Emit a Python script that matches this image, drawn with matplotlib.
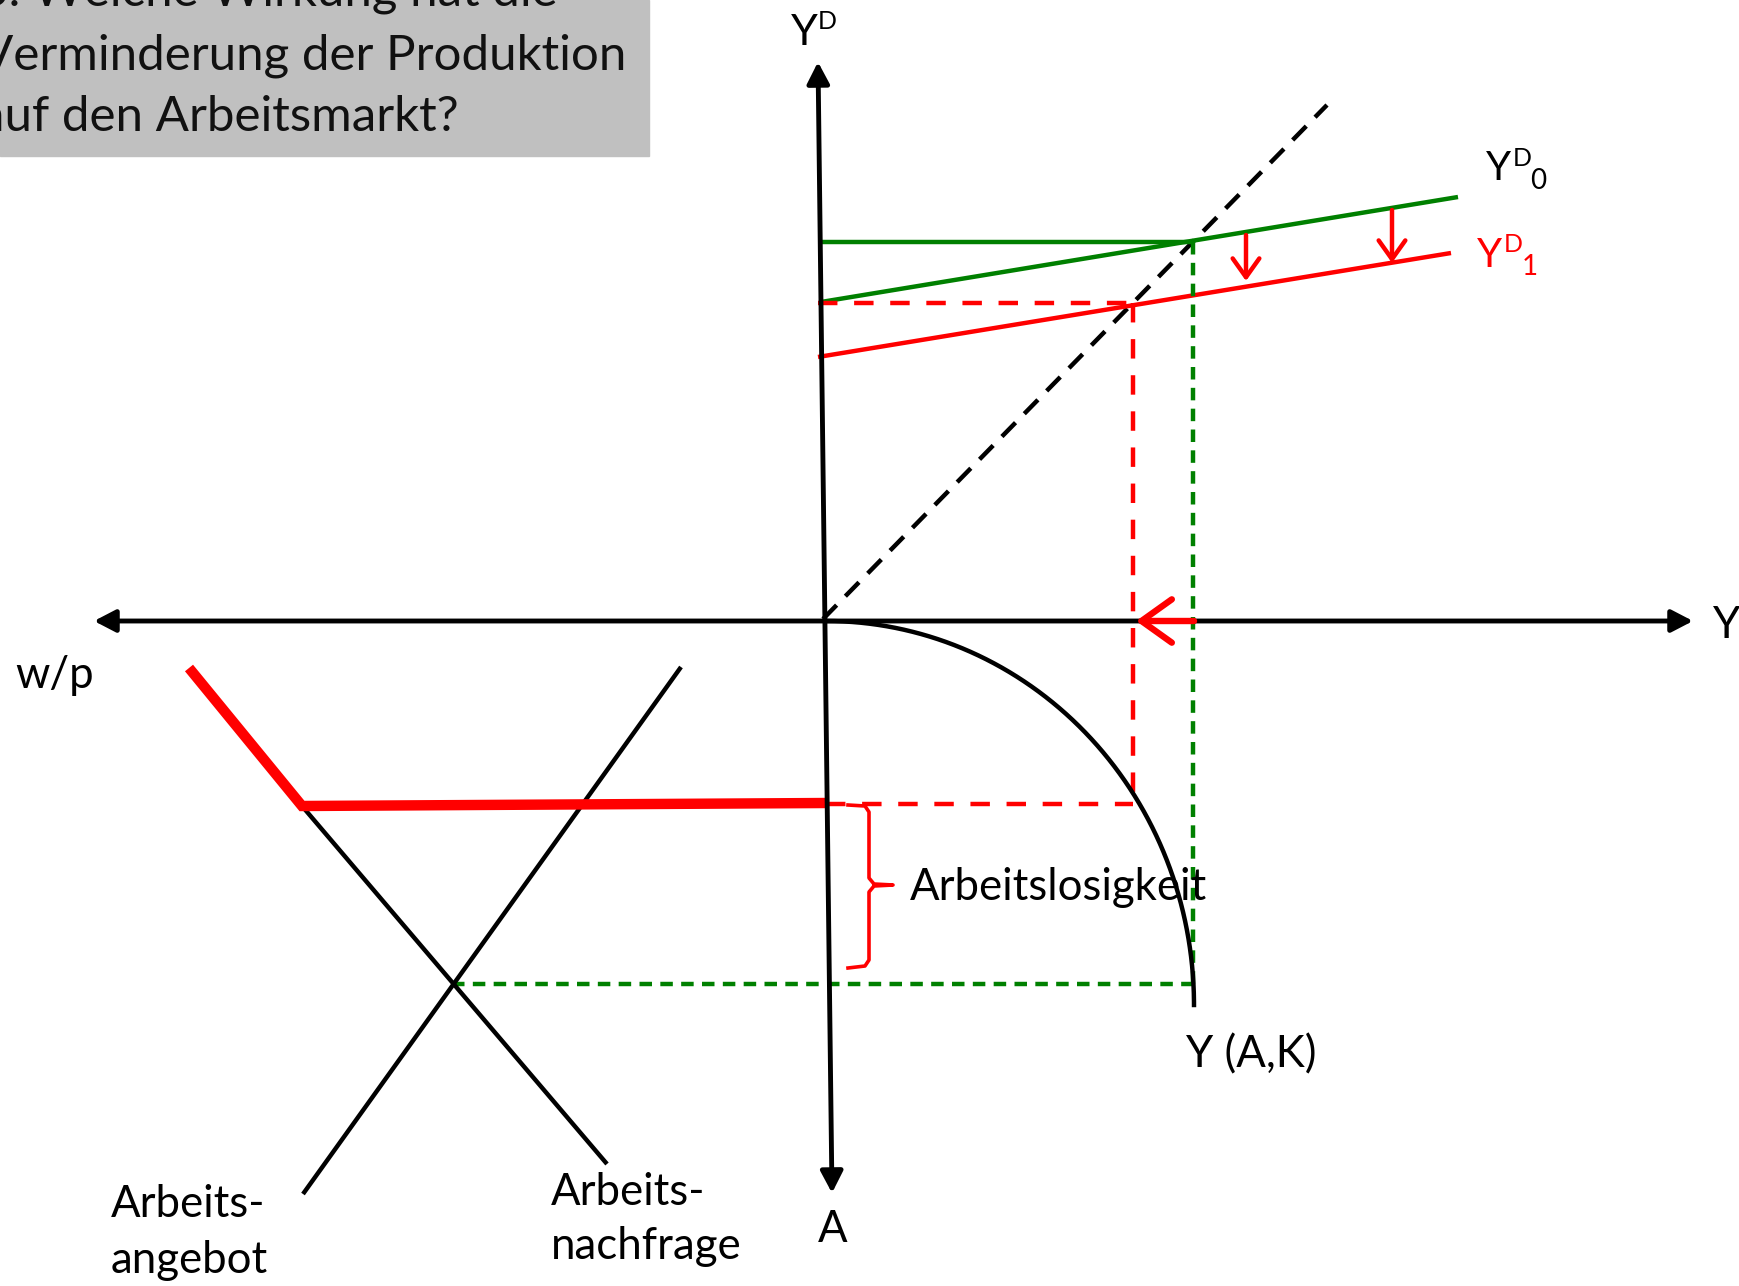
import numpy as np
import matplotlib
matplotlib.use('Agg')
import matplotlib.pyplot as plt
from matplotlib.patches import Rectangle

plt.rcParams['font.family'] = ['Lato', 'DejaVu Sans']
plt.rcParams['lines.scale_dashes'] = False

W, H = 1739, 1286
RED = '#ff0000'
GREEN = '#008000'

# diagram geometry in slide pixels (y grows downwards)
axis_h = [(94, 621), (1693, 621)]
axis_v = [(832, 1193), (818, 62)]
diag_45 = [(823, 619), (1327, 105)]
yd0 = [(821, 302), (1458, 197)]
yd1 = [(818, 357), (1451, 253)]
yd0_level = [(818, 242), (1193, 242)]
yd1_level = [(818, 303), (1133, 303)]
y1_drop = [(1133, 303), (1133, 804)]
a1_level = [(826, 804), (1133, 804)]
y0_drop = [(1193, 242), (1193, 984)]
a0_level = [(452, 984), (1193, 984)]
wage_floor = [(189, 668), (302, 806), (826, 803)]
labour_demand = [(302, 806), (607, 1164)]
labour_supply = [(303, 1194), (681, 667)]
prod_center = (826, 1005)
prod_radius = (368, 384)
shift_arrows = [((1246, 235), (1246, 281)), ((1392, 210), (1392, 263))]
output_arrow = ((1194, 621), (1136, 621))
brace = [(848, 805), (865, 806), (869, 812), (869, 878), (874, 884), (893, 885),
         (874, 886), (869, 892), (869, 960), (865, 966), (848, 968)]

title_lines = ['3. Welche Wirkung hat die', 'Verminderung der Produktion', 'auf den Arbeitsmarkt?']
title_baselines = [6, 69, 131]

labels = [('Arbeitslosigkeit', 910, 900), ('Y (A,K)', 1186, 1067), ('w/p', 15, 688),
          ('A', 818, 1242), ('Y', 1713, 638), ('Arbeits-', 111, 1217),
          ('angebot', 111, 1273), ('Arbeits-', 551, 1205), ('nachfrage', 551, 1259)]


def seg(ax, pts, color, lw, dashes=None):
    xs, ys = zip(*pts)
    line, = ax.plot(xs, ys, color=color, lw=lw, solid_capstyle='butt')
    if dashes:
        line.set_linestyle(dashes)
    return line


def arrow(ax, start, end, color, lw, style, scale):
    ax.annotate('', xy=end, xytext=start,
                arrowprops=dict(arrowstyle=style, color=color, lw=lw,
                                mutation_scale=scale, shrinkA=0, shrinkB=0))


fig = plt.figure(figsize=(W / 100, H / 100), dpi=100)
ax = fig.add_axes([0, 0, 1, 1])
ax.set_xlim(0, W)
ax.set_ylim(H, 0)
ax.axis('off')

# title box
ax.add_patch(Rectangle((0, 0), 649, 156, color='#c0c0c0', zorder=0))
for line, base in zip(title_lines, title_baselines):
    ax.text(-20, base, line, fontsize=35.5, va='baseline', ha='left', color='#111111')

# axes of the four-quadrant diagram
arrow(ax, axis_h[0], axis_h[1], 'black', 3.5, '<|-|>,head_length=0.5,head_width=0.26', 26)
arrow(ax, axis_v[0], axis_v[1], 'black', 3.5, '<|-|>,head_length=0.5,head_width=0.26', 26)

# goods market
seg(ax, diag_45, 'black', 3.2, (0, (14, 9)))
seg(ax, yd0_level, GREEN, 3.2)
seg(ax, yd0, GREEN, 3.2)
seg(ax, yd1, RED, 3.2)
seg(ax, yd1_level, RED, 3.2, (0, (14, 12)))
seg(ax, y1_drop, RED, 3.2, (0, (14, 12)))
seg(ax, a1_level, RED, 3.2, (0, (14, 12)))
seg(ax, y0_drop, GREEN, 3.2, (0, (9, 6)))
seg(ax, a0_level, GREEN, 3.2, (0, (9, 6)))
for start, end in shift_arrows:
    arrow(ax, start, end, RED, 3.2, '->,head_length=0.45,head_width=0.32', 30)
arrow(ax, output_arrow[0], output_arrow[1], RED, 4.6, '->,head_length=0.42,head_width=0.3', 52)

# production function Y(A,K)
t = np.linspace(0, np.pi / 2, 200)
ax.plot(prod_center[0] + prod_radius[0] * np.sin(t),
        prod_center[1] - prod_radius[1] * np.cos(t), color='black', lw=3.2)

# labour market
seg(ax, labour_demand, 'black', 3.2)
seg(ax, labour_supply, 'black', 3.2)
xs, ys = zip(*wage_floor)
ax.plot(xs, ys, color=RED, lw=7.5, solid_joinstyle='miter', solid_capstyle='butt')
xs, ys = zip(*brace)
ax.plot(xs, ys, color=RED, lw=2.6)

# labels
for text, x, y in labels:
    ax.text(x, y, text, fontsize=31.5, va='baseline', ha='left')
ax.text(791, 45, 'Y', fontsize=31, va='baseline', ha='left')
ax.text(818, 29, 'D', fontsize=18, va='baseline', ha='left')
ax.text(1486, 180, 'Y', fontsize=29, va='baseline', ha='left')
ax.text(1513, 166, 'D', fontsize=18, va='baseline', ha='left')
ax.text(1530, 189, '0', fontsize=20, va='baseline', ha='left')
ax.text(1477, 267, 'Y', fontsize=29, va='baseline', ha='left', color=RED)
ax.text(1504, 252, 'D', fontsize=18, va='baseline', ha='left', color=RED)
ax.text(1522, 275, '1', fontsize=20, va='baseline', ha='left', color=RED)

fig.savefig('out.png', dpi=100)
